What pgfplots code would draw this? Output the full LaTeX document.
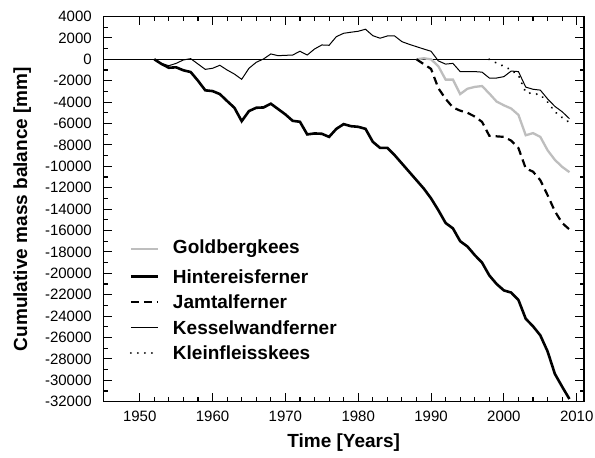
\documentclass[border=0pt]{standalone}
\usepackage{fontspec}
\setmainfont{Liberation Sans}
\usepackage{pgfplots}
\pgfplotsset{compat=1.18}
\definecolor{goldgray}{RGB}{190,190,190}
\begin{document}
\begin{tikzpicture}
\begin{axis}[name=ax, scale only axis, width=480.7pt, height=385.2pt,
  xmin=1945, xmax=2011, ymin=-32000, ymax=4000,
  xtick={1950,1960,1970,1980,1990,2000,2010}, minor x tick num=4,
  ytick={-32000,-30000,-28000,-26000,-24000,-22000,-20000,-18000,-16000,-14000,-12000,-10000,-8000,-6000,-4000,-2000,0,2000,4000},
  minor y tick num=1,
  scaled y ticks=false, scaled x ticks=false,
  major tick length=9pt, minor tick length=4.5pt,
  tick style={black, line width=1.1pt},
  axis line style={line width=1.5pt},
  /pgf/number format/assume math mode=true,
  /pgf/number format/1000 sep={},
  ticklabel style={font=\fontsize{15}{18}\selectfont},
  xticklabel style={yshift=-6pt},
  yticklabel style={xshift=-8pt},
  xlabel={Time [Years]}, ylabel={Cumulative mass balance [mm]},
  label style={font=\fontsize{19}{23}\selectfont\bfseries},
  xlabel style={at={(axis description cs:0.5,0)}, anchor=center, yshift=-41pt},
  ylabel style={at={(axis description cs:0,0.5)}, anchor=center, yshift=81pt},
  legend style={draw=none, fill=none, inner sep=0pt, outer sep=0pt, row sep=0pt,
    column sep=8pt,
    nodes={inner sep=5.8pt, text depth={}},
    font=\fontsize{19}{23}\selectfont\bfseries,
    at={(axis description cs:0.0547,0.4347)}, anchor=north west},
  legend cell align=left,
  legend image code/.code={\draw[#1] plot coordinates {(0pt,0pt) (13.5pt,0pt) (27pt,0pt)};},
]
\addplot[black, line width=1.2pt, forget plot] coordinates {(1945,0) (2011,0)};

\addplot[goldgray, line width=2.3pt] coordinates {
(1988,0) (1989,100) (1990,0) (1991,-650) (1992,-1900) (1993,-1900) (1994,-3250)
(1995,-2750) (1996,-2580) (1997,-2500) (1998,-3200) (1999,-3950) (2000,-4300)
(2001,-4600) (2002,-5200) (2003,-7100) (2004,-6900) (2005,-7250) (2006,-8500)
(2007,-9400) (2008,-10050) (2009,-10550)};
\addlegendentry{Goldbergkees}

\addplot[black, line width=2.6pt] coordinates {
(1952,0) (1953,-440) (1954,-790) (1955,-750) (1956,-1030) (1957,-1190) (1958,-2000)
(1959,-2900) (1960,-2970) (1961,-3250) (1962,-3900) (1963,-4530) (1964,-5780)
(1965,-4840) (1966,-4530) (1967,-4500) (1968,-4150) (1969,-4650) (1970,-5150)
(1971,-5750) (1972,-5840) (1973,-7020) (1974,-6930) (1975,-6960) (1976,-7250)
(1977,-6500) (1978,-6060) (1979,-6250) (1980,-6310) (1981,-6500) (1982,-7710)
(1983,-8280) (1984,-8280) (1985,-8960) (1986,-9740) (1987,-10520) (1988,-11300)
(1989,-12080) (1990,-13000) (1991,-14100) (1992,-15300) (1993,-15800) (1994,-17000)
(1995,-17500) (1996,-18300) (1997,-19000) (1998,-20200) (1999,-21000) (2000,-21600)
(2001,-21800) (2002,-22500) (2003,-24250) (2004,-24950) (2005,-25800) (2006,-27300)
(2007,-29400) (2008,-30600) (2009,-31750)};
\addlegendentry{Hintereisferner}

\addplot[black, line width=2.2pt, dash pattern=on 8pt off 5pt] coordinates {
(1988,0) (1989,-450) (1990,-900) (1991,-2700) (1992,-3700) (1993,-4500) (1994,-4800)
(1995,-5000) (1996,-5350) (1997,-5850) (1998,-7150) (1999,-7200) (2000,-7250)
(2001,-7600) (2002,-8300) (2003,-10200) (2004,-10500) (2005,-11300) (2006,-12700)
(2007,-14200) (2008,-15300) (2009,-15900)};
\addlegendentry{Jamtalferner}

\addplot[black, line width=1pt] coordinates {
(1952,0) (1953,-380) (1954,-600) (1955,-380) (1956,-60) (1957,60) (1958,-440)
(1959,-940) (1960,-840) (1961,-560) (1962,-1000) (1963,-1380) (1964,-1870)
(1965,-840) (1966,-280) (1967,30) (1968,500) (1969,340) (1970,370) (1971,400)
(1972,750) (1973,400) (1974,960) (1975,1340) (1976,1310) (1977,2120) (1978,2430)
(1979,2530) (1980,2620) (1981,2810) (1982,2210) (1983,1970) (1984,2180) (1985,2180)
(1986,1650) (1987,1400) (1988,1180) (1989,960) (1990,750) (1991,-150) (1992,-450)
(1993,-380) (1994,-1150) (1995,-1150) (1996,-1150) (1997,-1200) (1998,-1750)
(1999,-1750) (2000,-1620) (2001,-1100) (2002,-1150) (2003,-2600) (2004,-2800)
(2005,-2880) (2006,-3700) (2007,-4400) (2008,-4900) (2009,-5550)};
\addlegendentry{Kesselwandferner}

\addplot[black, line width=2.2pt, line cap=round, dash pattern=on 0.01pt off 7pt] coordinates {
(1998,0) (1999,-350) (2000,-650) (2001,-1000) (2002,-1500) (2003,-3100) (2004,-3200)
(2005,-3300) (2006,-4000) (2007,-4900) (2008,-5450) (2009,-5900)};
\addlegendentry{Kleinfleisskees}
\end{axis}
\pgfresetboundingbox
\path ([shift={(-103.3pt,-55.3pt)}]ax.south west) rectangle ([shift={(11pt,16.5pt)}]ax.north east);
\end{tikzpicture}
\end{document}
